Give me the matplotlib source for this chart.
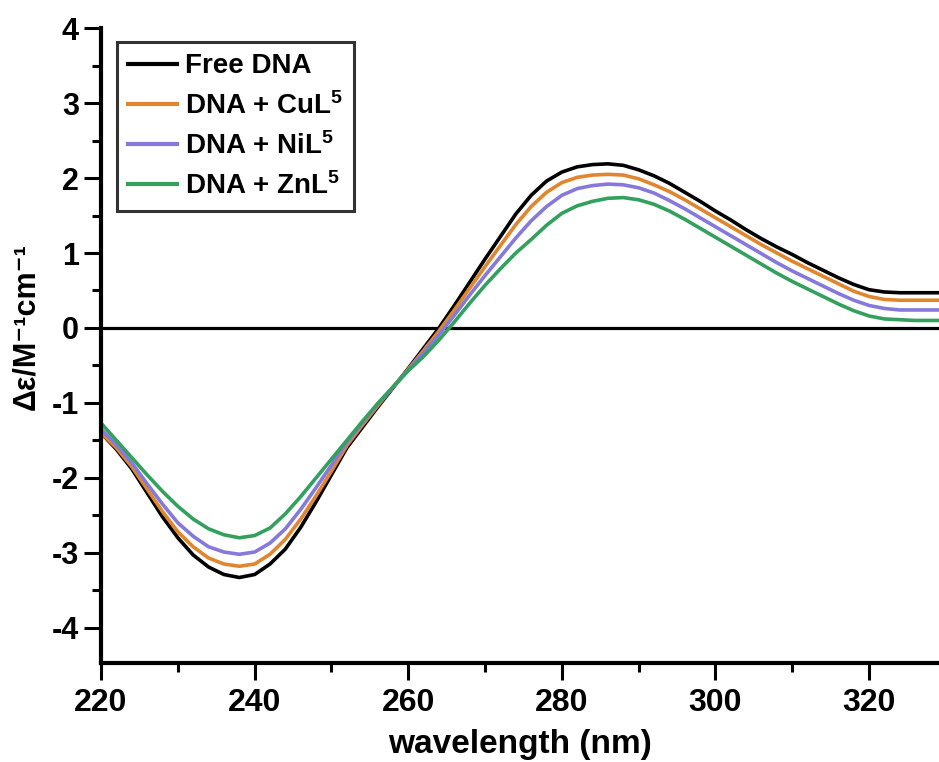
import matplotlib
matplotlib.use("Agg")
import matplotlib.pyplot as plt
from matplotlib.ticker import MultipleLocator

plt.rcParams['font.family'] = ['Liberation Sans', 'DejaVu Sans']
plt.rcParams['font.weight'] = 'bold'
plt.rcParams['axes.unicode_minus'] = False
plt.rcParams['mathtext.fontset'] = 'custom'
plt.rcParams['mathtext.rm'] = 'Liberation Sans:bold'
plt.rcParams['mathtext.it'] = 'Liberation Sans:bold'
plt.rcParams['mathtext.bf'] = 'Liberation Sans:bold'
plt.rcParams['mathtext.default'] = 'rm'

wavelength = [220, 222, 224, 226, 228, 230, 232, 234, 236, 238, 240, 242, 244, 246,
              248, 250, 252, 254, 256, 258, 260, 262, 264, 266, 268, 270, 272, 274,
              276, 278, 280, 282, 284, 286, 288, 290, 292, 294, 296, 298, 300, 302,
              304, 306, 308, 310, 312, 314, 316, 318, 320, 322, 324, 326, 328, 329]
free_dna = [-1.40, -1.62, -1.88, -2.20, -2.52, -2.80, -3.03, -3.19, -3.29, -3.33, -3.29,
            -3.15, -2.95, -2.66, -2.32, -1.96, -1.60, -1.33, -1.06, -0.80, -0.54, -0.27,
            0.00, 0.30, 0.61, 0.92, 1.22, 1.52, 1.77, 1.96, 2.08, 2.15, 2.18, 2.19, 2.17,
            2.11, 2.03, 1.93, 1.81, 1.69, 1.56, 1.44, 1.31, 1.19, 1.08, 0.98, 0.87, 0.77,
            0.67, 0.58, 0.51, 0.48, 0.47, 0.47, 0.47, 0.47]
dna_cu = [-1.40, -1.60, -1.85, -2.15, -2.45, -2.72, -2.92, -3.07, -3.15, -3.18, -3.15,
          -3.02, -2.82, -2.55, -2.24, -1.91, -1.57, -1.30, -1.04, -0.79, -0.55, -0.30,
          -0.04, 0.24, 0.53, 0.82, 1.10, 1.38, 1.62, 1.81, 1.94, 2.01, 2.04, 2.05, 2.04,
          1.99, 1.91, 1.82, 1.71, 1.59, 1.47, 1.35, 1.23, 1.11, 1.00, 0.89, 0.79, 0.69,
          0.59, 0.49, 0.42, 0.38, 0.37, 0.37, 0.37, 0.37]
dna_ni = [-1.35, -1.56, -1.80, -2.08, -2.35, -2.60, -2.78, -2.92, -2.99, -3.02, -2.99,
          -2.87, -2.68, -2.42, -2.13, -1.83, -1.53, -1.27, -1.02, -0.79, -0.56, -0.33,
          -0.09, 0.17, 0.44, 0.70, 0.95, 1.20, 1.43, 1.62, 1.77, 1.86, 1.90, 1.92, 1.91,
          1.87, 1.80, 1.70, 1.59, 1.47, 1.35, 1.23, 1.11, 0.99, 0.87, 0.76, 0.66, 0.56,
          0.46, 0.37, 0.30, 0.26, 0.24, 0.24, 0.24, 0.24]
dna_zn = [-1.27, -1.50, -1.73, -1.96, -2.18, -2.38, -2.55, -2.68, -2.76, -2.80, -2.77,
          -2.67, -2.48, -2.25, -2.00, -1.75, -1.50, -1.25, -1.01, -0.79, -0.57, -0.38,
          -0.16, 0.08, 0.33, 0.57, 0.79, 1.00, 1.18, 1.37, 1.53, 1.63, 1.69, 1.73, 1.74,
          1.71, 1.65, 1.56, 1.45, 1.33, 1.21, 1.09, 0.97, 0.85, 0.73, 0.62, 0.52, 0.42,
          0.32, 0.23, 0.16, 0.12, 0.11, 0.10, 0.10, 0.10]

labels = ["Free DNA", r"DNA + CuL$^{5}$", r"DNA + NiL$^{5}$", r"DNA + ZnL$^{5}$"]
colors = ["#000000", "#E0862E", "#8579DC", "#33A05E"]
series = [free_dna, dna_cu, dna_ni, dna_zn]

fig = plt.figure(figsize=(9.39, 7.62), dpi=100)
ax = fig.add_axes([0.1076, 0.130, 0.8924, 0.833])

ax.axhline(0, color='black', lw=2.3, zorder=1)
for y, c, lab in zip(series, colors, labels):
    ax.plot(wavelength, y, color=c, lw=2.6, label=lab, zorder=2,
            solid_joinstyle='round')

ax.set_xlim(220, 329.1)
ax.set_ylim(-4.47, 4)
ax.xaxis.set_major_locator(MultipleLocator(20))
ax.xaxis.set_minor_locator(MultipleLocator(10))
ax.yaxis.set_major_locator(MultipleLocator(1))
ax.yaxis.set_minor_locator(MultipleLocator(0.5))

for s in ['top', 'right']:
    ax.spines[s].set_visible(False)
for s in ['left', 'bottom']:
    ax.spines[s].set_linewidth(3)

ax.tick_params(which='major', direction='out', length=12, width=2.2)
ax.tick_params(which='minor', direction='out', length=6.5, width=2.2)
ax.tick_params(axis='x', which='major', labelsize=23, pad=6)
ax.tick_params(axis='y', which='major', labelsize=22, pad=4)
for t in ax.get_xticklabels() + ax.get_yticklabels():
    t.set_fontweight('bold')

ax.set_xlabel("wavelength (nm)", fontsize=24, fontweight='bold', labelpad=8)
ax.set_ylabel("Δε/M⁻¹cm⁻¹", fontsize=22, fontweight='bold')
ax.yaxis.set_label_coords(-0.071, 0.53)

leg = ax.legend(loc='upper left', bbox_to_anchor=(0.019, 0.978), fontsize=20,
                frameon=True, fancybox=False, edgecolor='black', handlelength=1.75,
                handletextpad=0.3, borderpad=0.4, labelspacing=0.45,
                borderaxespad=0)
leg.get_frame().set_linewidth(2.2)
for t in leg.get_texts():
    t.set_fontweight('bold')
for l in leg.get_lines():
    l.set_linewidth(3)

fig.savefig("out.png", dpi=100)
